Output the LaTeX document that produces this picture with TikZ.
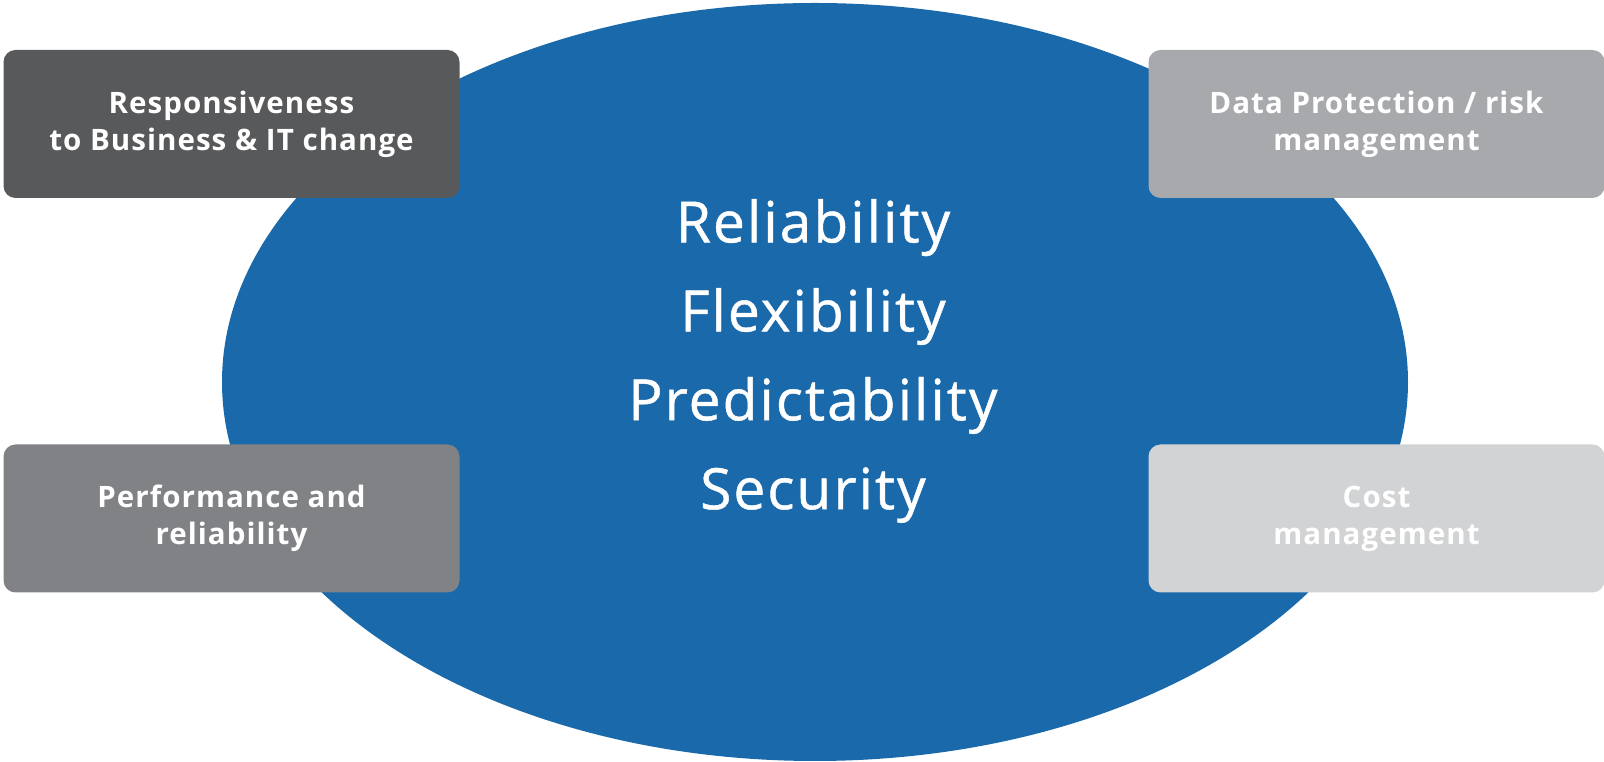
\documentclass[tikz,border=0pt]{standalone}
\usepackage{fontspec}
\setmainfont{Open Sans}
\newfontfamily\goalsfont[LetterSpace=3.5, FakeBold=0.8]{Open Sans}
\newfontfamily\cardfont[LetterSpace=3.5]{Open Sans}
\usepackage{xcolor}
\usetikzlibrary{positioning, calc}
\definecolor{ovalblue}{HTML}{1A69AA}
\definecolor{darkgraybox}{HTML}{58595B}
\definecolor{midgraybox}{HTML}{808285}
\definecolor{lightgraybox}{HTML}{A7A9AC}
\definecolor{palegraybox}{HTML}{D1D3D4}
\tikzset{
	oval/.style={ellipse, fill=ovalblue, draw=none},
	card/.style={rectangle, rounded corners=1.2mm, minimum width=45.6mm, minimum height=14.8mm, align=center, text=white, font=\cardfont\bfseries\fontsize{8.4}{10.5}\selectfont, inner sep=0pt}
}

\begin{document}
\begin{tikzpicture}[
	goals/.style={align=center, text=white, font=\goalsfont\fontsize{16.2}{25.3}\selectfont}
	]
	
	% canvas
	\useasboundingbox (0,0) rectangle (16.04,7.62);
	
	% central oval
	\fill[ovalblue] (8.15,3.80) ellipse [x radius=5.93, y radius=3.79];
	\node[goals] (goals) at (8.13,4.01) {Reliability\\Flexibility\\Predictability\\Security};
	
	% corner cards
	\node[card, fill=darkgraybox] (responsiveness) at (2.315,6.38) {Responsiveness\\to Business \& IT change};
	\node[card, fill=lightgraybox] (data_protection) at (13.765,6.38) {Data Protection / risk\\management};
	\node[card, fill=midgraybox] (performance) at (2.315,2.435) {Performance and\\reliability};
	\node[card, fill=palegraybox] (cost) at (13.765,2.435) {Cost\\management};
	
\end{tikzpicture}
\end{document}
